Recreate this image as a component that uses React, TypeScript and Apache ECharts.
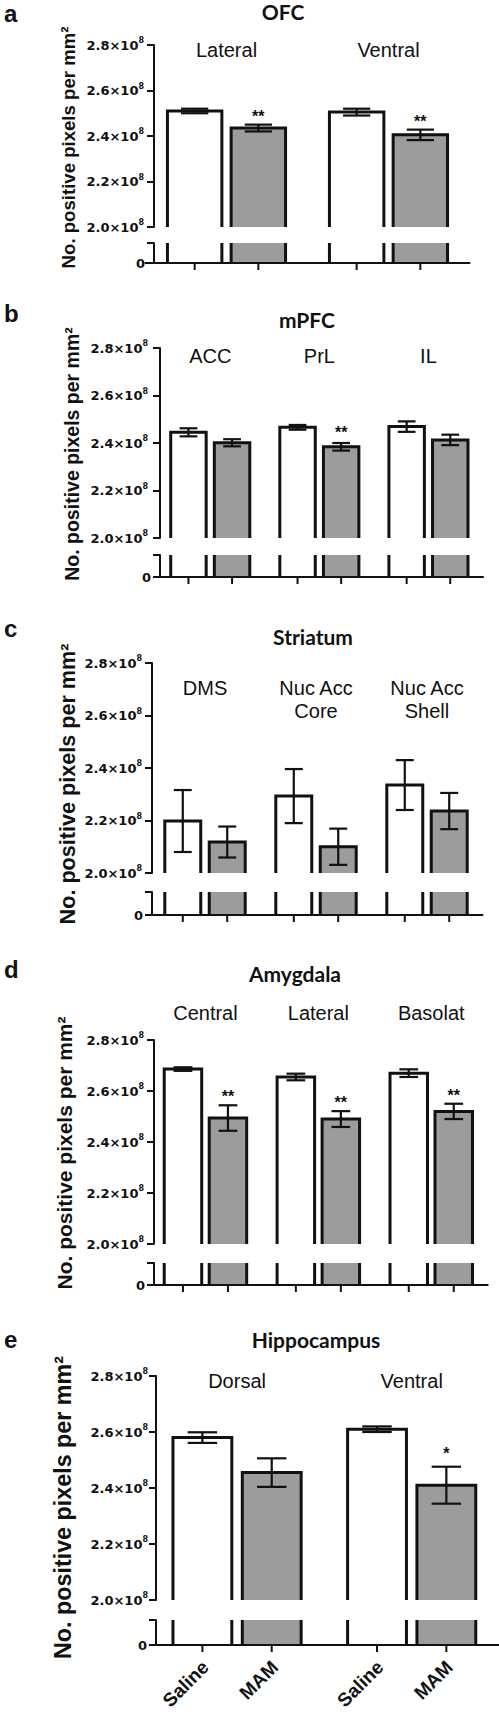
import { useEffect, useRef } from 'react';
import * as echarts from 'echarts';

const W = 499;
const H = 1721;

// ---------- DATA (values in units of 10^8 positive pixels per mm²) ----------
const barGroupNames = ['Saline', 'MAM'];
const yMin = 2.0;
const yMax = 2.8;
const yStep = 0.2;
const lowMax = 0.1;
const yAxisName = 'No. positive pixels per mm²';

// a: OFC
const ofcGroups = ['Lateral', 'Ventral'];
const ofcSaline = [2.51, 2.505];
const ofcSalineErr = [0.01, 0.015];
const ofcMam = [2.435, 2.405];
const ofcMamErr = [0.015, 0.023];
const ofcSig = ['**', '**'];

// b: mPFC
const mpfcGroups = ['ACC', 'PrL', 'IL'];
const mpfcSaline = [2.445, 2.466, 2.469];
const mpfcSalineErr = [0.017, 0.01, 0.022];
const mpfcMam = [2.401, 2.384, 2.413];
const mpfcMamErr = [0.015, 0.016, 0.022];
const mpfcSig = ['', '**', ''];

// c: Striatum
const strGroups = ['DMS', 'Nuc Acc\nCore', 'Nuc Acc\nShell'];
const strSaline = [2.198, 2.293, 2.335];
const strSalineErr = [0.118, 0.103, 0.095];
const strMam = [2.118, 2.1, 2.236];
const strMamErr = [0.059, 0.069, 0.069];
const strSig = ['', '', ''];

// d: Amygdala
const amyGroups = ['Central', 'Lateral', 'Basolat'];
const amySaline = [2.686, 2.655, 2.67];
const amySalineErr = [0.007, 0.013, 0.015];
const amyMam = [2.494, 2.49, 2.52];
const amyMamErr = [0.05, 0.031, 0.03];
const amySig = ['**', '**', '**'];

// e: Hippocampus
const hipGroups = ['Dorsal', 'Ventral'];
const hipSaline = [2.58, 2.61];
const hipSalineErr = [0.019, 0.01];
const hipMam = [2.455, 2.41];
const hipMamErr = [0.051, 0.066];
const hipSig = ['', '*'];

// ---------- LAYOUT / STYLE ----------
const ARIAL = '"Liberation Sans", Arial, Helvetica, sans-serif';
const CAL = 'Lato, "Open Sans", sans-serif';
const TICKF = '"DejaVu Sans", sans-serif';
const INK = '#111';
const GRAY = '#9c9c9c';

const panels = [
  {
    letter: 'a', title: 'OFC', groups: ofcGroups, saline: ofcSaline, salineErr: ofcSalineErr, mam: ofcMam, mamErr: ofcMamErr, sig: ofcSig,
    top: 45, bottom: 227, lowTop: 243, lowBottom: 263, left: 145.5, right: 469.5, axisX: 154,
    barPct: 0.336, gapPct: 0.17, labelMargin: 6.5, tickMargin: 10,
    nameX: 68, nameY: 147.5, nameSize: 18.6, letterY: 13, titleX: 283, titleY: 11.5, starOff: 12, xLabels: false,
  },
  {
    letter: 'b', title: 'mPFC', groups: mpfcGroups, saline: mpfcSaline, salineErr: mpfcSalineErr, mam: mpfcMam, mamErr: mpfcMamErr, sig: mpfcSig,
    top: 348, bottom: 538, lowTop: 555, lowBottom: 577, left: 155.7, right: 483, axisX: 160,
    barPct: 0.325, gapPct: 0.23, labelMargin: 3.5, tickMargin: 12,
    nameX: 72, nameY: 454, nameSize: 19.5, letterY: 313.7, titleX: 307, titleY: 319.9, starOff: 14, xLabels: false,
  },
  {
    letter: 'c', title: 'Striatum', groups: strGroups, saline: strSaline, salineErr: strSalineErr, mam: strMam, mamErr: strMamErr, sig: strSig,
    top: 663, bottom: 873, lowTop: 892, lowBottom: 915, left: 149.5, right: 482.5, axisX: 152,
    barPct: 0.324, gapPct: 0.236, labelMargin: -13.5, tickMargin: 10,
    nameX: 67.5, nameY: 784, nameSize: 21.6, letterY: 628.7, titleX: 313, titleY: 636.9, starOff: 12, xLabels: false,
  },
  {
    letter: 'd', title: 'Amygdala', groups: amyGroups, saline: amySaline, salineErr: amySalineErr, mam: amyMam, mamErr: amyMamErr, sig: amySig,
    top: 1040, bottom: 1244, lowTop: 1263, lowBottom: 1285, left: 149, right: 487.7, axisX: 154,
    barPct: 0.332, gapPct: 0.2, labelMargin: 38.5, tickMargin: 10,
    nameX: 64.5, nameY: 1153, nameSize: 21, letterY: 969.7, titleX: 295, titleY: 973.9, starOff: 12, xLabels: false,
  },
  {
    letter: 'e', title: 'Hippocampus', groups: hipGroups, saline: hipSaline, salineErr: hipSalineErr, mam: hipMam, mamErr: hipMamErr, sig: hipSig,
    top: 1376, bottom: 1600, lowTop: 1620, lowBottom: 1645, left: 149.75, right: 499.75, axisX: 156,
    barPct: 0.337, gapPct: 0.178, labelMargin: 6.5, tickMargin: 8,
    nameX: 62.5, nameY: 1507.5, nameSize: 23.3, letterY: 1339.7, titleX: 316, titleY: 1339.9, starOff: 17, xLabels: true,
  },
];

function barCenter(api: any, ci: number, v: number, gi: number, p: any) {
  const c = api.coord([ci, v]);
  const band = api.size([1, 0])[0];
  const w = band * p.barPct;
  const gap = w * p.gapPct;
  const cx = c[0] - (2 * w + gap) / 2 + w / 2 + gi * (w + gap);
  return { cx, w, y: c[1] };
}

function makeUpper(p: any, gi: number) {
  return (params: any, api: any) => {
    const ci = api.value(0);
    const v = api.value(1);
    const e = api.value(2);
    const { cx, w, y } = barCenter(api, ci, v, gi, p);
    const yBase = api.coord([ci, yMin])[1];
    const yHi = api.coord([ci, v + e])[1];
    const yLo = api.coord([ci, v - e])[1];
    const x0 = cx - w / 2;
    const x1 = cx + w / 2;
    const cap = w * 0.25;
    const fill = gi === 0 ? '#ffffff' : GRAY;
    const children: any[] = [
      { type: 'rect', shape: { x: x0, y, width: w, height: yBase - y }, style: { fill } },
      { type: 'polyline', shape: { points: [[x0, yBase], [x0, y], [x1, y], [x1, yBase]] }, style: { fill: 'none', stroke: INK, lineWidth: 3, lineJoin: 'miter' } },
      { type: 'line', shape: { x1: cx, y1: yHi, x2: cx, y2: yLo }, style: { stroke: INK, lineWidth: 2.2 } },
      { type: 'line', shape: { x1: cx - cap, y1: yHi, x2: cx + cap, y2: yHi }, style: { stroke: INK, lineWidth: 2.2 } },
      { type: 'line', shape: { x1: cx - cap, y1: yLo, x2: cx + cap, y2: yLo }, style: { stroke: INK, lineWidth: 2.2 } },
    ];
    const s = gi === 1 ? p.sig[params.dataIndex] : '';
    if (s) {
      children.push({
        type: 'text', x: cx, y: yHi - p.starOff + 3.7,
        style: { text: s, font: `bold 16px ${ARIAL}`, fill: INK, align: 'center', textAlign: 'center', verticalAlign: 'middle', textVerticalAlign: 'middle' },
      });
    }
    return { type: 'group', children };
  };
}

function makeLower(p: any, gi: number) {
  return (params: any, api: any) => {
    const ci = api.value(0);
    const v = api.value(1);
    const { cx, w } = barCenter(api, ci, v, gi, p);
    const yAx = api.coord([ci, 0])[1];
    const yT = api.coord([ci, lowMax])[1];
    const x0 = cx - w / 2;
    const x1 = cx + w / 2;
    const fill = gi === 0 ? '#ffffff' : GRAY;
    const children: any[] = [
      { type: 'rect', shape: { x: x0, y: yT, width: w, height: yAx - yT }, style: { fill } },
      { type: 'line', shape: { x1: x0, y1: yT, x2: x0, y2: yAx }, style: { stroke: INK, lineWidth: 3 } },
      { type: 'line', shape: { x1: x1, y1: yT, x2: x1, y2: yAx }, style: { stroke: INK, lineWidth: 3 } },
      { type: 'line', shape: { x1: cx, y1: yAx, x2: cx, y2: yAx + 7 }, style: { stroke: INK, lineWidth: 2 } },
    ];
    if (p.xLabels) {
      children.push({
        type: 'text', x: cx + 3, y: yAx + 19, rotation: Math.PI / 4,
        style: { text: barGroupNames[gi], font: `bold 19px ${ARIAL}`, fill: INK, align: 'right', textAlign: 'right', verticalAlign: 'middle', textVerticalAlign: 'middle' },
      });
    }
    return { type: 'group', children };
  };
}

function buildOption() {
  const grid: any[] = [];
  const xAxis: any[] = [];
  const yAxis: any[] = [];
  const series: any[] = [];
  const elements: any[] = [];

  panels.forEach((p, pi) => {
    const gU = pi * 2;
    const gL = pi * 2 + 1;
    const width = p.right - p.left;
    grid.push({ left: p.left, top: p.top, width, height: p.bottom - p.top });
    grid.push({ left: p.left, top: p.lowTop, width, height: p.lowBottom - p.lowTop });

    xAxis.push({
      type: 'category', gridIndex: gU, data: p.groups, position: 'top',
      axisLine: { show: false, onZero: false }, axisTick: { show: false }, splitLine: { show: false },
      axisLabel: {
        show: true, interval: 0, margin: p.labelMargin, verticalAlign: 'top', lineHeight: 23,
        fontFamily: ARIAL, fontSize: 20, color: INK,
      },
    });
    xAxis.push({
      type: 'category', gridIndex: gL, data: p.groups, position: 'bottom', z: 10,
      axisLine: { show: true, onZero: false, lineStyle: { color: INK, width: 2 } },
      axisTick: { show: false }, axisLabel: { show: false }, splitLine: { show: false },
    });

    const off = -(p.axisX - p.left);
    yAxis.push({
      type: 'value', gridIndex: gU, min: yMin, max: yMax, interval: yStep, offset: off,
      axisLine: { show: true, lineStyle: { color: INK, width: 2 } },
      axisTick: { show: true, length: 7, lineStyle: { color: INK, width: 2 } },
      splitLine: { show: false },
      axisLabel: {
        margin: p.tickMargin,
        formatter: (v: number) => `{b|${v.toFixed(1)}×10}{s|8}`,
        rich: {
          b: { fontFamily: TICKF, fontWeight: 'bold', fontSize: 13, color: INK, lineHeight: 17 },
          s: { fontFamily: TICKF, fontWeight: 'bold', fontSize: 8, color: INK, lineHeight: 9, verticalAlign: 'top' },
        },
      },
    });
    yAxis.push({
      type: 'value', gridIndex: gL, min: 0, max: lowMax, interval: lowMax, offset: off,
      axisLine: { show: true, lineStyle: { color: INK, width: 2 } },
      axisTick: { show: true, length: 7, lineStyle: { color: INK, width: 2 } },
      splitLine: { show: false },
      axisLabel: {
        margin: 9, fontFamily: TICKF, fontWeight: 'bold', fontSize: 13, color: INK,
        formatter: (v: number) => (v === 0 ? '0' : ''),
      },
    });

    const sets = [
      { vals: p.saline, errs: p.salineErr },
      { vals: p.mam, errs: p.mamErr },
    ];
    sets.forEach((s, gi) => {
      const data = p.groups.map((_: string, i: number) => [i, s.vals[i], s.errs[i]]);
      series.push({
        type: 'custom', name: barGroupNames[gi], xAxisIndex: gU, yAxisIndex: gU, data,
        renderItem: makeUpper(p, gi), z: 2, silent: true, clip: false,
      });
      series.push({
        type: 'custom', name: barGroupNames[gi], xAxisIndex: gL, yAxisIndex: gL, data,
        renderItem: makeLower(p, gi), z: 2, silent: true, clip: false,
      });
    });

    elements.push({
      type: 'text', x: 4, y: p.letterY,
      style: { text: p.letter, font: `bold 24px ${ARIAL}`, fill: INK, align: 'left', textAlign: 'left', verticalAlign: 'middle', textVerticalAlign: 'middle' },
    });
    elements.push({
      type: 'text', x: p.titleX, y: p.titleY,
      style: { text: p.title, font: `bold 21px ${CAL}`, fill: INK, align: 'center', textAlign: 'center', verticalAlign: 'middle', textVerticalAlign: 'middle' },
    });
    elements.push({
      type: 'text', x: p.nameX, y: p.nameY, rotation: Math.PI / 2,
      style: { text: yAxisName, font: `bold ${p.nameSize}px ${ARIAL}`, fill: INK, align: 'center', textAlign: 'center', verticalAlign: 'middle', textVerticalAlign: 'middle' },
    });
  });

  return {
    animation: false,
    backgroundColor: '#ffffff',
    grid,
    xAxis,
    yAxis,
    series,
    graphic: { elements },
  };
}

export default function App() {
  const ref = useRef<HTMLDivElement>(null);
  useEffect(() => {
    if (!ref.current) return;
    const chart = echarts.init(ref.current, null, { renderer: 'svg', width: W, height: H });
    chart.setOption(buildOption() as any);
    return () => chart.dispose();
  }, []);
  return (
    <div
      ref={ref}
      style={{ position: 'absolute', left: 0, top: 0, width: W, height: H, background: '#fff' }}
    />
  );
}
